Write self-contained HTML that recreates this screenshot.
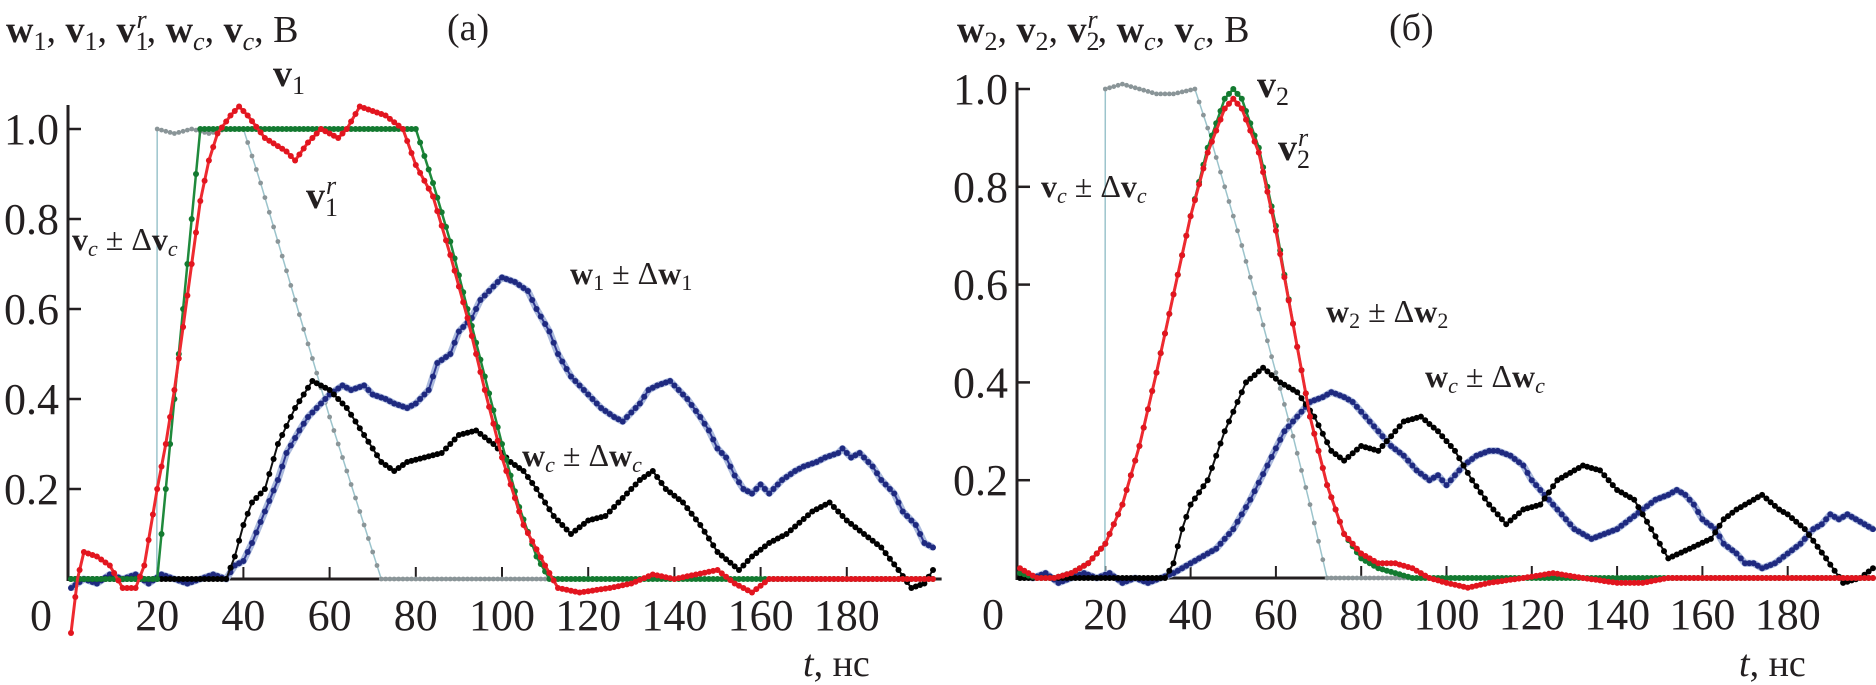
<!DOCTYPE html>
<html><head><meta charset="utf-8">
<style>
html,body{margin:0;padding:0;background:#fff;}
svg{display:block;}
svg text{font-family:"Liberation Serif","DejaVu Serif","Times New Roman",serif;fill:#231f20;}
.tick{font-size:44px;}
.lbl{font-size:38px;}
</style></head>
<body>
<svg id="chart" width="1876" height="685" viewBox="0 0 1876 685" xmlns="http://www.w3.org/2000/svg" font-family="Liberation Serif, DejaVu Serif, serif">
<g id="panelA"></g>
<g id="panelB"></g>
<text x="6" y="42" class="lbl"><tspan font-weight="bold">w</tspan><tspan font-size="26" dy="8">1</tspan><tspan dy="-8">, </tspan><tspan font-weight="bold">v</tspan><tspan font-size="26" dy="8">1</tspan><tspan dy="-8">, </tspan><tspan font-weight="bold">v</tspan><tspan font-size="26" dy="8">1</tspan><tspan font-size="26" font-style="italic" dx="-12" dy="-22">r</tspan><tspan dy="14">, </tspan><tspan font-weight="bold">w</tspan><tspan font-size="26" font-style="italic" dy="8">c</tspan><tspan dy="-8">, </tspan><tspan font-weight="bold">v</tspan><tspan font-size="26" font-style="italic" dy="8">c</tspan><tspan dy="-8">, B</tspan></text>
<text x="447" y="40" class="lbl">(a)</text>
<text x="957" y="42" class="lbl"><tspan font-weight="bold">w</tspan><tspan font-size="26" dy="8">2</tspan><tspan dy="-8">, </tspan><tspan font-weight="bold">v</tspan><tspan font-size="26" dy="8">2</tspan><tspan dy="-8">, </tspan><tspan font-weight="bold">v</tspan><tspan font-size="26" dy="8">2</tspan><tspan font-size="26" font-style="italic" dx="-12" dy="-22">r</tspan><tspan dy="14">, </tspan><tspan font-weight="bold">w</tspan><tspan font-size="26" font-style="italic" dy="8">c</tspan><tspan dy="-8">, </tspan><tspan font-weight="bold">v</tspan><tspan font-size="26" font-style="italic" dy="8">c</tspan><tspan dy="-8">, B</tspan></text>
<text x="1389" y="40" class="lbl">(б)</text>
<text x="273" y="86" class="lbl"><tspan font-weight="bold">v</tspan><tspan font-size="26" dy="8">1</tspan></text>
<text x="306" y="208" class="lbl"><tspan font-weight="bold">v</tspan><tspan font-size="26" dy="8">1</tspan><tspan font-size="26" font-style="italic" dx="-12" dy="-22">r</tspan></text>
<text x="72" y="250" font-size="32"><tspan font-weight="bold">v</tspan><tspan font-size="22" font-style="italic" dy="6">c</tspan><tspan dy="-6"> ± Δ</tspan><tspan font-weight="bold">v</tspan><tspan font-size="22" font-style="italic" dy="6">c</tspan></text>
<text x="570" y="284" font-size="32"><tspan font-weight="bold">w</tspan><tspan font-size="22" dy="6">1</tspan><tspan dy="-6"> ± Δ</tspan><tspan font-weight="bold">w</tspan><tspan font-size="22" dy="6">1</tspan></text>
<text x="522" y="466" font-size="32"><tspan font-weight="bold">w</tspan><tspan font-size="22" font-style="italic" dy="6">c</tspan><tspan dy="-6"> ± Δ</tspan><tspan font-weight="bold">w</tspan><tspan font-size="22" font-style="italic" dy="6">c</tspan></text>
<text x="803" y="676" class="lbl"><tspan font-style="italic">t</tspan>, нс</text>
<text x="1257" y="97" class="lbl"><tspan font-weight="bold">v</tspan><tspan font-size="26" dy="8">2</tspan></text>
<text x="1278" y="160" class="lbl"><tspan font-weight="bold">v</tspan><tspan font-size="26" dy="8">2</tspan><tspan font-size="26" font-style="italic" dx="-12" dy="-22">r</tspan></text>
<text x="1041" y="197" font-size="32"><tspan font-weight="bold">v</tspan><tspan font-size="22" font-style="italic" dy="6">c</tspan><tspan dy="-6"> ± Δ</tspan><tspan font-weight="bold">v</tspan><tspan font-size="22" font-style="italic" dy="6">c</tspan></text>
<text x="1326" y="322" font-size="32"><tspan font-weight="bold">w</tspan><tspan font-size="22" dy="6">2</tspan><tspan dy="-6"> ± Δ</tspan><tspan font-weight="bold">w</tspan><tspan font-size="22" dy="6">2</tspan></text>
<text x="1425" y="387" font-size="32"><tspan font-weight="bold">w</tspan><tspan font-size="22" font-style="italic" dy="6">c</tspan><tspan dy="-6"> ± Δ</tspan><tspan font-weight="bold">w</tspan><tspan font-size="22" font-style="italic" dy="6">c</tspan></text>
<text x="1739" y="676" class="lbl"><tspan font-style="italic">t</tspan>, нс</text>
</svg>
<script>
const xTicks = [20,40,60,80,100,120,140,160,180];
const yTicks = [0.2,0.4,0.6,0.8,1.0];
const yTickLabels = ["0.2","0.4","0.6","0.8","1.0"];

const aVcT = [0,19.9,20,24,28,32,36,40,44,48,52,56,60,64,68,72,80,100,120,140,160,180,200];
const aVcV = [0,0,1,0.99,1,0.99,1,1,0.88,0.75,0.62,0.49,0.36,0.24,0.12,0,0,0,0,0,0,0,0];
const aV1T = [0,20,22,24,26,28,30,40,60,80,84,88,92,96,100,104,108,111,120,140,160,180,200];
const aV1V = [0,0,0.2,0.4,0.6,0.8,1,1,1,1,0.88,0.75,0.6,0.45,0.3,0.16,0.05,0,0,0,0,0,0];
const aV1rT = [0,1.5,3,6,9,12,15,17,20,22,24,26,28,30,32,34,37,39,41,45,50,52,55,58,62,64,67,70,73,77,80,84,88,92,96,100,105,110,113,118,125,130,135,140,145,150,154,158,162,180,200];
const aV1rV = [-0.12,0,0.06,0.05,0.03,-0.02,-0.02,0.03,0.2,0.3,0.42,0.56,0.7,0.84,0.93,0.99,1.03,1.05,1.03,0.98,0.95,0.93,0.97,1.0,0.98,1.0,1.05,1.04,1.03,1.0,0.92,0.85,0.72,0.58,0.42,0.27,0.12,0.03,-0.02,-0.03,-0.02,-0.01,0.01,0,0.01,0.02,-0.01,-0.03,0,0,0];
const aW1T = [0,3,6,9,12,15,18,21,24,27,30,33,36,38,40,42,45,48,50,53,55,58,60,63,65,68,70,73,75,78,80,83,85,88,90,93,95,98,100,103,106,108,111,113,116,118,121,123,126,128,130,132,134,136,139,141,143,146,148,150,152,154,156,158,160,162,165,168,170,173,175,178,179,181,183,186,188,191,193,196,198,200];
const aW1V = [-0.02,0,-0.01,0.01,0,0.01,-0.01,0.01,0,-0.01,0,0.01,0,0.03,0.04,0.08,0.15,0.22,0.28,0.33,0.36,0.39,0.41,0.43,0.42,0.43,0.41,0.4,0.39,0.38,0.39,0.42,0.48,0.5,0.55,0.58,0.62,0.65,0.67,0.66,0.64,0.6,0.55,0.5,0.45,0.43,0.4,0.38,0.36,0.35,0.37,0.39,0.42,0.43,0.44,0.42,0.4,0.36,0.33,0.29,0.27,0.23,0.2,0.19,0.21,0.19,0.22,0.24,0.25,0.26,0.27,0.28,0.29,0.27,0.28,0.25,0.22,0.19,0.15,0.12,0.08,0.07];
const aWcT = [0,10,20,30,36,38,40,42,45,48,52,56,60,64,68,72,75,78,82,86,90,94,98,102,105,108,112,116,120,124,128,132,135,138,142,146,150,155,158,162,166,172,176,180,184,188,192,195,198,200];
const aWcV = [0,0,0,0,0,0.05,0.12,0.17,0.2,0.3,0.38,0.44,0.42,0.38,0.32,0.26,0.24,0.26,0.27,0.28,0.32,0.33,0.3,0.26,0.24,0.2,0.14,0.1,0.13,0.14,0.18,0.22,0.24,0.2,0.17,0.12,0.06,0.02,0.05,0.08,0.1,0.15,0.17,0.13,0.1,0.07,0.02,-0.02,-0.01,0.02];

const bVcT = [0,19.9,20,24,28,32,36,41,44,48,52,56,60,64,68,72,80,100,140,200];
const bVcV = [0,0,1,1.01,1,0.99,0.99,1,0.92,0.8,0.68,0.55,0.42,0.29,0.15,0,0,0,0,0];
const bV2T = [0,4,8,12,16,20,24,28,32,36,40,44,48,50,52,56,60,64,68,72,76,80,84,88,92,96,100,140,200];
const bV2V = [0.01,0,0,0.01,0.03,0.07,0.15,0.27,0.42,0.58,0.74,0.88,0.98,1.0,0.98,0.88,0.72,0.52,0.33,0.19,0.09,0.04,0.02,0.01,0,0,0,0,0];
const bV2rT = [0,4,8,12,16,20,24,28,32,36,40,44,48,50,52,56,60,64,68,72,76,80,84,88,92,96,100,105,110,118,125,132,140,146,152,160,200];
const bV2rV = [0.02,0,0,0.01,0.03,0.07,0.15,0.27,0.42,0.58,0.74,0.87,0.96,0.98,0.96,0.87,0.71,0.52,0.33,0.19,0.09,0.05,0.03,0.03,0.02,0,-0.01,-0.02,-0.01,0,0.01,0,-0.01,-0.01,0,0,0];
const bW2T = [0,3,6,9,12,15,18,21,24,27,30,33,36,38,42,46,50,54,58,62,65,68,71,73,76,78,81,84,87,90,93,96,98,100,102,104,107,110,112,115,118,120,123,126,128,130,132,134,137,140,143,146,149,152,154,156,158,160,163,165,168,170,172,174,177,180,183,186,188,190,192,194,196,198,200];
const bW2V = [0.01,0,0.01,-0.01,0,0.01,0,0.01,-0.01,0,-0.01,0,0.01,0.02,0.04,0.06,0.1,0.16,0.23,0.3,0.33,0.36,0.37,0.38,0.37,0.36,0.33,0.3,0.27,0.25,0.22,0.2,0.21,0.19,0.21,0.23,0.25,0.26,0.26,0.25,0.23,0.2,0.17,0.14,0.12,0.1,0.09,0.08,0.09,0.1,0.12,0.14,0.16,0.17,0.18,0.17,0.15,0.12,0.1,0.07,0.05,0.03,0.03,0.02,0.03,0.05,0.07,0.1,0.11,0.13,0.12,0.13,0.12,0.11,0.1];
const bWcT = [0,10,20,30,34,36,38,40,44,48,53,57,61,65,69,73,76,80,84,88,90,94,98,102,106,110,114,118,122,126,130,132,136,140,144,148,152,157,162,165,168,172,174,178,180,184,189,193,197,200];
const bWcV = [0,0,0,0,0,0.03,0.1,0.15,0.2,0.3,0.4,0.43,0.4,0.38,0.33,0.26,0.24,0.27,0.26,0.3,0.32,0.33,0.3,0.26,0.2,0.15,0.11,0.14,0.15,0.2,0.22,0.23,0.22,0.18,0.16,0.1,0.04,0.06,0.08,0.12,0.14,0.16,0.17,0.14,0.13,0.1,0.04,-0.01,0,0.02];

const NS = "http://www.w3.org/2000/svg";

function makeAxes(x0, tScale, yBase, vScale, tMax){
  return { x: t => x0 + t*tScale, y: v => yBase - v*vScale, tMax: tMax };
}
const axA = makeAxes(71, 4.31, 579, 450, 202);
const axB = makeAxes(1020, 4.265, 578, 489, 200);

function interp(T, V, t){
  for(let i=0;i<T.length-1;i++){
    if(t>=T[i] && t<=T[i+1]){
      const f = (T[i+1]===T[i]) ? 0 : (t-T[i])/(T[i+1]-T[i]);
      return V[i] + f*(V[i+1]-V[i]);
    }
  }
  return V[V.length-1];
}

function drawSeries(g, ax, T, V, name, lineColor, dotColor, lineW, dotR, band){
  const sg = document.createElementNS(NS,'g');
  
  
  const pts = T.map((t,i)=> ax.x(t).toFixed(1)+','+ax.y(V[i]).toFixed(1)).join(' ');
  if(band){
    const b = document.createElementNS(NS,'polyline');
    
    
    b.setAttribute('points', pts);
    b.setAttribute('fill','none');
    b.setAttribute('stroke', band);
    b.setAttribute('stroke-width', 7);
    b.setAttribute('stroke-linejoin','round');
    sg.appendChild(b);
  }
  const pl = document.createElementNS(NS,'polyline');
  
  
  pl.setAttribute('points', pts);
  pl.setAttribute('fill','none');
  pl.setAttribute('stroke', lineColor);
  pl.setAttribute('stroke-width', lineW);
  pl.setAttribute('stroke-linejoin','round');
  sg.appendChild(pl);
  const tEnd = T[T.length-1];
  for(let t=T[0]; t<=tEnd+0.001; t+=1){
    const c = document.createElementNS(NS,'circle');
    
    
    c.setAttribute('cx', ax.x(t).toFixed(1));
    c.setAttribute('cy', ax.y(interp(T,V,t)).toFixed(1));
    c.setAttribute('r', dotR);
    c.setAttribute('fill', dotColor);
    sg.appendChild(c);
  }
  g.appendChild(sg);
}

function drawAxes(g, ax, topY, zeroX, suffix){
  const ag = document.createElementNS(NS,'g');
  
  
  const yl = document.createElementNS(NS,'line');
  
  
  yl.setAttribute('x1', ax.x(0)-3); yl.setAttribute('x2', ax.x(0)-3);
  yl.setAttribute('y1', topY); yl.setAttribute('y2', ax.y(0)+2);
  yl.setAttribute('stroke', '#231f20'); yl.setAttribute('stroke-width', 3);
  ag.appendChild(yl);
  yTicks.forEach((v,i)=>{
    const tk = document.createElementNS(NS,'line');
    
    
    tk.setAttribute('x1', ax.x(0)-3); tk.setAttribute('x2', ax.x(0)+10);
    tk.setAttribute('y1', ax.y(v)); tk.setAttribute('y2', ax.y(v));
    tk.setAttribute('stroke', '#231f20'); tk.setAttribute('stroke-width', 2.5);
    ag.appendChild(tk);
    const tl = document.createElementNS(NS,'text');
    
    
    tl.setAttribute('x', ax.x(0)-12); tl.setAttribute('y', ax.y(v)+15);
    tl.setAttribute('text-anchor','end');
    tl.setAttribute('class','tick');
    tl.textContent = yTickLabels[i];
    ag.appendChild(tl);
  });
  const z = document.createElementNS(NS,'text');
  
  
  z.setAttribute('x', zeroX); z.setAttribute('y', ax.y(0)+51);
  z.setAttribute('text-anchor','middle'); z.setAttribute('class','tick');
  z.textContent = '0';
  ag.appendChild(z);
  xTicks.forEach(t=>{
    const tk = document.createElementNS(NS,'line');
    
    
    tk.setAttribute('x1', ax.x(t)); tk.setAttribute('x2', ax.x(t));
    tk.setAttribute('y1', ax.y(0)); tk.setAttribute('y2', ax.y(0)-12);
    tk.setAttribute('stroke', '#231f20'); tk.setAttribute('stroke-width', 2);
    ag.appendChild(tk);
    const tl = document.createElementNS(NS,'text');
    
    
    tl.setAttribute('x', ax.x(t)); tl.setAttribute('y', ax.y(0)+51);
    tl.setAttribute('text-anchor','middle'); tl.setAttribute('class','tick');
    tl.textContent = String(t);
    ag.appendChild(tl);
  });
  g.appendChild(ag);
}

function baseline(g, ax, suffix){
  const xl = document.createElementNS(NS,'line');
  
  
  xl.setAttribute('x1', ax.x(0)-3); xl.setAttribute('x2', ax.x(ax.tMax));
  xl.setAttribute('y1', ax.y(0)); xl.setAttribute('y2', ax.y(0));
  xl.setAttribute('stroke', '#231f20'); xl.setAttribute('stroke-width', 3);
  g.appendChild(xl);
}

const gA = document.getElementById('panelA');
drawAxes(gA, axA, 105, 41, 'a');
baseline(gA, axA, 'a');
drawSeries(gA, axA, aVcT, aVcV, 'series-vc-a', '#9cc4cc', '#8a9598', 1.5, 2.4, null);
drawSeries(gA, axA, aW1T, aW1V, 'series-w1', '#2b3590', '#1f2a80', 2, 3, '#aab9dc');
drawSeries(gA, axA, aWcT, aWcV, 'series-wc-a', '#111', '#000', 2, 3, null);
drawSeries(gA, axA, aV1T, aV1V, 'series-v1', '#1f8a3c', '#137a30', 2.5, 3, null);
drawSeries(gA, axA, aV1rT, aV1rV, 'series-v1r', '#ee2a30', '#e2151f', 3, 3, null);

const gB = document.getElementById('panelB');
drawAxes(gB, axB, 82, 993, 'b');
baseline(gB, axB, 'b');
drawSeries(gB, axB, bVcT, bVcV, 'series-vc-b', '#9cc4cc', '#8a9598', 1.5, 2.4, null);
drawSeries(gB, axB, bW2T, bW2V, 'series-w2', '#2b3590', '#1f2a80', 2, 3, '#aab9dc');
drawSeries(gB, axB, bWcT, bWcV, 'series-wc-b', '#111', '#000', 2, 3, null);
drawSeries(gB, axB, bV2T, bV2V, 'series-v2', '#1f8a3c', '#137a30', 2.5, 3, null);
drawSeries(gB, axB, bV2rT, bV2rV, 'series-v2r', '#ee2a30', '#e2151f', 3, 3, null);
</script>
</body></html>
